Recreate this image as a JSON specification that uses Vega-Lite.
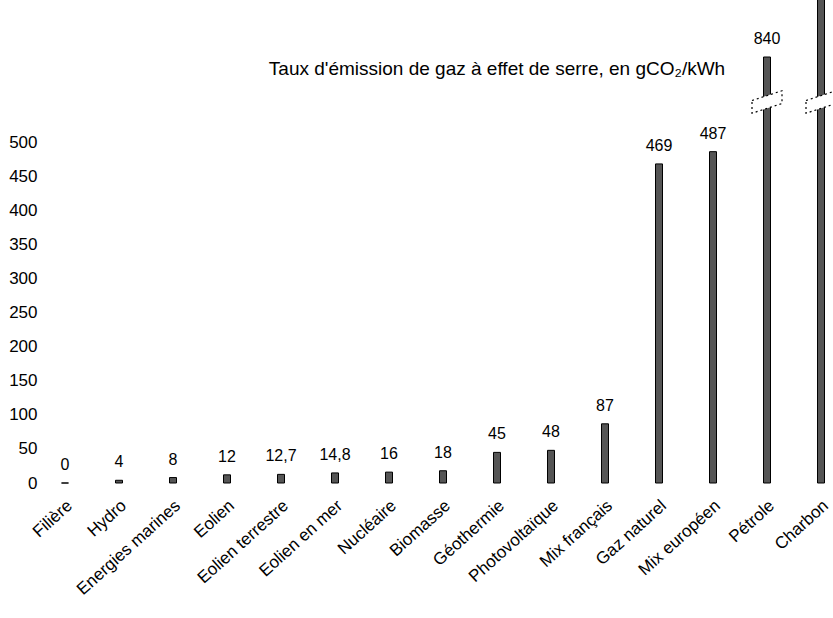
{
  "$schema": "https://vega.github.io/schema/vega-lite/v6.json",
  "width": 810,
  "height": 483,
  "autosize": {"type": "none"},
  "padding": {"left": 38, "top": 0, "right": 0, "bottom": 135},
  "background": "white",
  "config": {
    "view": {"stroke": null},
    "font": "Liberation Sans",
    "locale": {"number": {"decimal": ",", "thousands": " ", "grouping": [3], "currency": ["", " €"]}}
  },
  "title": {
    "text": "Taux d'émission de gaz à effet de serre, en gCO₂/kWh",
    "fontSize": 19,
    "fontWeight": "normal",
    "font": "Liberation Sans",
    "color": "#000",
    "anchor": "middle",
    "offset": -80,
    "dy": 19,
    "dx": 54
  },
  "data": {
    "values": [
      {"filiere": "Filière", "valeur": 0},
      {"filiere": "Hydro", "valeur": 4},
      {"filiere": "Energies marines", "valeur": 8},
      {"filiere": "Eolien", "valeur": 12},
      {"filiere": "Eolien terrestre", "valeur": 12.7},
      {"filiere": "Eolien en mer", "valeur": 14.8},
      {"filiere": "Nucléaire", "valeur": 16},
      {"filiere": "Biomasse", "valeur": 18},
      {"filiere": "Géothermie", "valeur": 45},
      {"filiere": "Photovoltaïque", "valeur": 48},
      {"filiere": "Mix français", "valeur": 87},
      {"filiere": "Gaz naturel", "valeur": 469},
      {"filiere": "Mix européen", "valeur": 487},
      {"filiere": "Pétrole", "valeur": 840},
      {"filiere": "Charbon", "valeur": 1001}
    ]
  },
  "encoding": {
    "x": {
      "field": "filiere",
      "type": "nominal",
      "sort": null,
      "scale": {"paddingInner": 0, "paddingOuter": 0},
      "axis": {
        "title": null,
        "labelAngle": -42,
        "labelAlign": "right",
        "labelBaseline": "middle",
        "labelOffset": 5,
        "labelPadding": 20,
        "ticks": false,
        "domain": false,
        "labelFontSize": 17,
        "labelColor": "#000",
        "labelLimit": 0
      }
    }
  },
  "layer": [
    {
      "mark": {"type": "bar", "width": 7, "fill": "#555555", "stroke": "#000", "strokeWidth": 1},
      "encoding": {
        "y": {
          "field": "valeur",
          "type": "quantitative",
          "scale": {"domain": [0, 560, 840, 1001], "range": [483, 102, 57, -20], "nice": false, "zero": false},
          "axis": {
            "title": null,
            "values": [0, 50, 100, 150, 200, 250, 300, 350, 400, 450, 500],
            "domain": false,
            "ticks": false,
            "grid": false,
            "labelFontSize": 17,
            "labelPadding": 1,
            "labelColor": "#000"
          }
        }
      }
    },
    {
      "transform": [{"filter": "datum.filiere !== 'Charbon'"}],
      "mark": {"type": "text", "baseline": "bottom", "dy": -10, "fontSize": 16, "color": "#000"},
      "encoding": {
        "y": {"field": "valeur", "type": "quantitative"},
        "text": {"field": "valeur", "type": "quantitative", "format": ".1~f"}
      }
    },
    {
      "transform": [{"filter": "datum.valeur > 800"}],
      "mark": {
        "type": "point",
        "shape": "M -1 -0.1 L 1 -0.75 L 1 0.1 L -1 0.75 Z",
        "size": 900,
        "filled": true,
        "fill": "white",
        "stroke": "black",
        "strokeDash": [2, 3],
        "strokeWidth": 1.2,
        "opacity": 1
      },
      "encoding": {"y": {"datum": 560, "type": "quantitative"}}
    }
  ]
}
